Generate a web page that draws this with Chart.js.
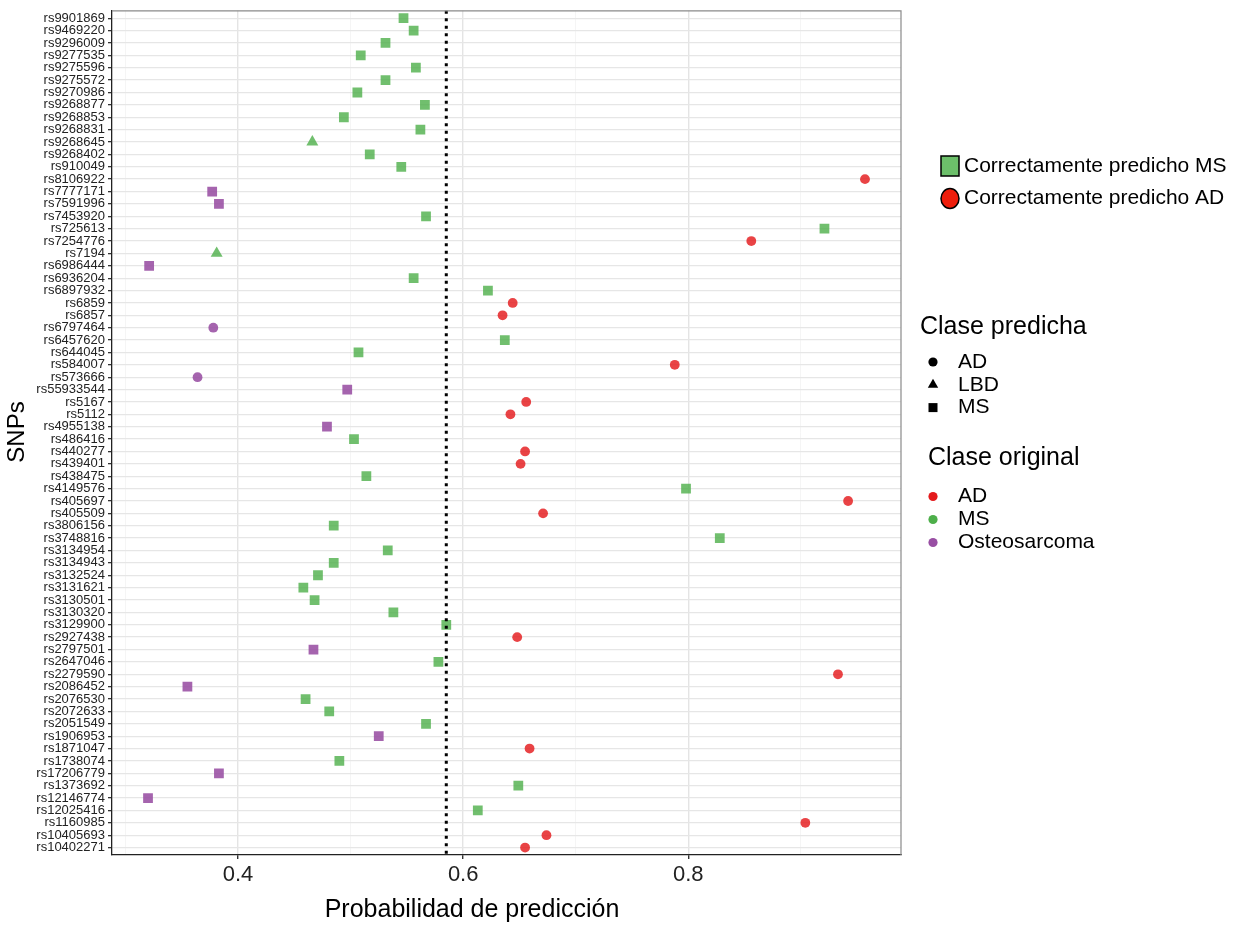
<!DOCTYPE html>
<html>
<head>
<meta charset="utf-8">
<script src="https://cdn.jsdelivr.net/npm/chart.js@4.4.1/dist/chart.umd.min.js"></script>
<style>
  html, body { margin: 0; padding: 0; background: #fff; }
</style>
</head>
<body>
<canvas id="snpChart" width="1233" height="926"></canvas>
<script>
// SNPs listed top to bottom
const snps = [
  'rs9901869','rs9469220','rs9296009','rs9277535','rs9275596','rs9275572','rs9270986','rs9268877',
  'rs9268853','rs9268831','rs9268645','rs9268402','rs910049','rs8106922','rs7777171','rs7591996',
  'rs7453920','rs725613','rs7254776','rs7194','rs6986444','rs6936204','rs6897932','rs6859',
  'rs6857','rs6797464','rs6457620','rs644045','rs584007','rs573666','rs55933544','rs5167',
  'rs5112','rs4955138','rs486416','rs440277','rs439401','rs438475','rs4149576','rs405697',
  'rs405509','rs3806156','rs3748816','rs3134954','rs3134943','rs3132524','rs3131621','rs3130501',
  'rs3130320','rs3129900','rs2927438','rs2797501','rs2647046','rs2279590','rs2086452','rs2076530',
  'rs2072633','rs2051549','rs1906953','rs1871047','rs1738074','rs17206779','rs1373692','rs12146774',
  'rs12025416','rs1160985','rs10405693','rs10402271'
];

const probability = [
  0.547, 0.556, 0.531, 0.509, 0.558, 0.531, 0.506, 0.566,
  0.494, 0.562, 0.466, 0.517, 0.545, 0.957, 0.377, 0.383,
  0.567, 0.921, 0.856, 0.381, 0.321, 0.556, 0.622, 0.644,
  0.635, 0.378, 0.637, 0.507, 0.788, 0.364, 0.497, 0.656,
  0.642, 0.479, 0.503, 0.655, 0.651, 0.514, 0.798, 0.942,
  0.671, 0.485, 0.828, 0.533, 0.485, 0.471, 0.458, 0.468,
  0.538, 0.585, 0.648, 0.467, 0.578, 0.933, 0.355, 0.460,
  0.481, 0.567, 0.525, 0.659, 0.490, 0.383, 0.649, 0.320,
  0.613, 0.904, 0.674, 0.655
];

const originalClass = [
  'MS','MS','MS','MS','MS','MS','MS','MS',
  'MS','MS','MS','MS','MS','AD','Osteosarcoma','Osteosarcoma',
  'MS','MS','AD','MS','Osteosarcoma','MS','MS','AD',
  'AD','Osteosarcoma','MS','MS','AD','Osteosarcoma','Osteosarcoma','AD',
  'AD','Osteosarcoma','MS','AD','AD','MS','MS','AD',
  'AD','MS','MS','MS','MS','MS','MS','MS',
  'MS','MS','AD','Osteosarcoma','MS','AD','Osteosarcoma','MS',
  'MS','MS','Osteosarcoma','AD','MS','Osteosarcoma','MS','Osteosarcoma',
  'MS','AD','AD','AD'
];

const predictedClass = [
  'MS','MS','MS','MS','MS','MS','MS','MS',
  'MS','MS','LBD','MS','MS','AD','MS','MS',
  'MS','MS','AD','LBD','MS','MS','MS','AD',
  'AD','AD','MS','MS','AD','AD','MS','AD',
  'AD','MS','MS','AD','AD','MS','MS','AD',
  'AD','MS','MS','MS','MS','MS','MS','MS',
  'MS','MS','AD','MS','MS','AD','MS','MS',
  'MS','MS','MS','AD','MS','MS','MS','MS',
  'MS','AD','AD','AD'
];

const originalLevels = ['AD', 'MS', 'Osteosarcoma'];
const predictedLevels = ['AD', 'LBD', 'MS'];
const xTickLabels = [0.4, 0.6, 0.8];
const threshold = 0.585;
const noteLabels = ['Correctamente predicho MS', 'Correctamente predicho AD'];

const FONT = "'Liberation Sans', Arial, Helvetica, sans-serif";
const pointColor = { AD: 'rgba(228,26,28,0.82)', MS: 'rgba(77,175,74,0.8)', Osteosarcoma: 'rgba(152,78,163,0.88)' };
const keyColor = { AD: '#E41A1C', MS: '#4DAF4A', Osteosarcoma: '#984EA3' };
const shape = { AD: 'circle', LBD: 'triangle', MS: 'rect' };
const radius = { circle: 4.9, triangle: 6.9, rect: 6.9 };

const datasets = originalLevels.map(level => {
  const idx = snps.map((s, i) => i).filter(i => originalClass[i] === level);
  const styles = idx.map(i => shape[predictedClass[i]]);
  return {
    label: level,
    data: idx.map(i => ({ x: probability[i], y: i + 1 })),
    pointStyle: styles,
    pointRadius: styles.map(s => radius[s]),
    backgroundColor: pointColor[level],
    borderWidth: 0
  };
});

const isMajor = v => xTickLabels.some(t => Math.abs(t - v) < 1e-6);

const decorations = {
  id: 'decorations',
  afterDatasetsDraw(chart) {
    const { ctx, chartArea: a, scales: { x } } = chart;
    ctx.save();
    // threshold
    const tx = x.getPixelForValue(threshold);
    ctx.strokeStyle = '#000';
    ctx.lineWidth = 3;
    ctx.setLineDash([3, 4.5]);
    ctx.beginPath();
    ctx.moveTo(tx, a.top);
    ctx.lineTo(tx, a.bottom);
    ctx.stroke();
    ctx.setLineDash([]);
    // panel border top/right
    ctx.strokeStyle = '#8a8a8a';
    ctx.lineWidth = 1.2;
    ctx.beginPath();
    ctx.moveTo(a.left, a.top);
    ctx.lineTo(a.right, a.top);
    ctx.lineTo(a.right, a.bottom);
    ctx.stroke();
    ctx.restore();
  },
  afterDraw(chart) {
    const ctx = chart.ctx;
    ctx.save();
    ctx.fillStyle = '#000';
    ctx.textBaseline = 'middle';

    // axis titles
    ctx.font = `25px ${FONT}`;
    ctx.textAlign = 'center';
    ctx.fillText('Probabilidad de predicción', 472, 910);
    ctx.font = `24px ${FONT}`;
    ctx.save();
    ctx.translate(17, 432);
    ctx.rotate(-Math.PI / 2);
    ctx.fillText('SNPs', 0, 0);
    ctx.restore();

    // note keys
    ctx.textAlign = 'left';
    ctx.lineWidth = 1.5;
    ctx.strokeStyle = '#000';
    ctx.fillStyle = '#6CBF6A';
    ctx.fillRect(941, 156, 18, 20);
    ctx.strokeRect(941, 156, 18, 20);
    ctx.fillStyle = '#EE1D0B';
    ctx.beginPath();
    ctx.ellipse(950, 198.5, 9, 10, 0, 0, Math.PI * 2);
    ctx.fill();
    ctx.stroke();
    ctx.fillStyle = '#000';
    ctx.font = `21px ${FONT}`;
    ctx.fillText(noteLabels[0], 964, 166);
    ctx.fillText(noteLabels[1], 964, 198.5);

    // Clase predicha
    ctx.font = `25px ${FONT}`;
    ctx.fillText('Clase predicha', 920, 327);
    ctx.font = `21px ${FONT}`;
    predictedLevels.forEach((lv, k) => {
      const y = 362 + k * 22.8;
      const s = shape[lv];
      ctx.beginPath();
      if (s === 'circle') {
        ctx.arc(933, y, 4.6, 0, Math.PI * 2);
      } else if (s === 'triangle') {
        ctx.moveTo(933, y - 6);
        ctx.lineTo(938.2, y + 3);
        ctx.lineTo(927.8, y + 3);
        ctx.closePath();
      } else {
        ctx.rect(928.5, y - 4.5, 9, 9);
      }
      ctx.fill();
      ctx.fillText(lv, 958, y);
    });

    // Clase original
    ctx.font = `25px ${FONT}`;
    ctx.fillText('Clase original', 928, 458);
    ctx.font = `21px ${FONT}`;
    originalLevels.forEach((lv, k) => {
      const y = 496.5 + k * 23;
      ctx.fillStyle = keyColor[lv];
      ctx.beginPath();
      ctx.arc(933, y, 4.6, 0, Math.PI * 2);
      ctx.fill();
      ctx.fillStyle = '#000';
      ctx.fillText(lv, 958, y);
    });
    ctx.restore();
  }
};

new Chart(document.getElementById('snpChart'), {
  type: 'scatter',
  data: { datasets },
  options: {
    responsive: false,
    devicePixelRatio: 1,
    animation: false,
    layout: { padding: { left: 0, right: 332, top: 10, bottom: 0 } },
    plugins: { legend: { display: false }, tooltip: { enabled: false } },
    scales: {
      x: {
        type: 'linear',
        min: 0.288,
        max: 0.989,
        afterFit: s => { s.height = 71; },
        ticks: {
          stepSize: 0.1,
          includeBounds: false,
          autoSkip: false,
          maxRotation: 0,
          padding: 3,
          color: '#222',
          font: { family: FONT, size: 22 },
          callback: v => isMajor(v) ? v.toFixed(1) : ''
        },
        grid: {
          color: c => isMajor(c.tick.value) ? '#E4E4E4' : '#F0F0F0',
          lineWidth: c => isMajor(c.tick.value) ? 1.4 : 0.7,
          tickColor: c => isMajor(c.tick.value) ? '#333' : 'rgba(0,0,0,0)',
          tickLength: 4
        },
        border: { color: '#222', width: 1.3 }
      },
      y: {
        type: 'linear',
        reverse: true,
        min: 0.4,
        max: snps.length + 0.6,
        afterFit: s => { s.width = 112; },
        ticks: {
          stepSize: 1,
          includeBounds: false,
          autoSkip: false,
          maxTicksLimit: 200,
          padding: 3,
          color: '#222',
          font: { family: FONT, size: 13 },
          callback: v => snps[v - 1] || ''
        },
        grid: { color: '#E6E6E6', lineWidth: 1.3, tickColor: '#333', tickLength: 4 },
        border: { color: '#222', width: 1.3 }
      }
    }
  },
  plugins: [decorations]
});
</script>
</body>
</html>
